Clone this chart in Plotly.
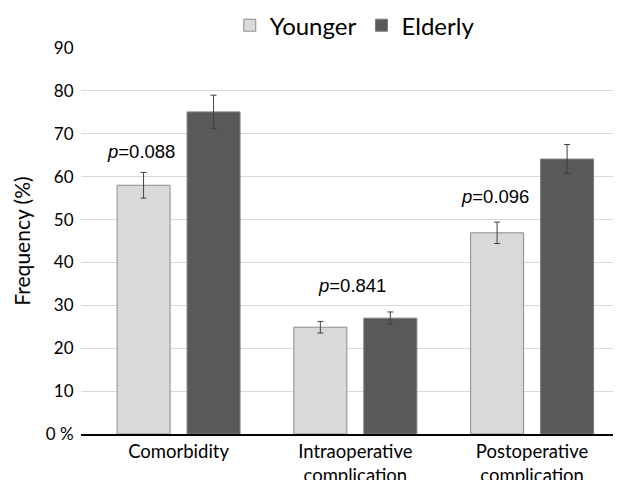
import plotly.graph_objects as go

categories = ["Comorbidity", "Intraoperative<br>complication", "Postoperative<br>complication"]
younger = [58, 24.9, 46.9]
younger_err = [3.0, 1.35, 2.5]
elderly = [75.1, 27, 64.1]
elderly_err = [3.9, 1.45, 3.4]
p_labels = ["0.088", "0.841", "0.096"]
p_y = [65.8, 34.6, 55.3]
p_offset = [-0.212, -0.02, -0.212]
y_ticks = [0, 10, 20, 30, 40, 50, 60, 70, 80, 90]
y_ticktext = ["0 %", "10", "20", "30", "40", "50", "60", "70", "80", "90"]

x_idx = list(range(len(categories)))

fig = go.Figure()
fig.add_trace(go.Bar(
    x=x_idx, y=younger, name="Younger",
    marker=dict(color="#d9d9d9", line=dict(color="#8c8c8c", width=1)),
    error_y=dict(type="data", array=younger_err, color="#404040", thickness=1, width=3),
))
fig.add_trace(go.Bar(
    x=x_idx, y=elderly, name="Elderly",
    marker=dict(color="#595959", line=dict(color="#7a7a7a", width=1)),
    error_y=dict(type="data", array=elderly_err, color="#404040", thickness=1, width=3),
))

for i, (lab, yy, off) in enumerate(zip(p_labels, p_y, p_offset)):
    fig.add_annotation(
        x=i + off, y=yy, xref="x", yref="y",
        text="<i>p</i>=" + lab, showarrow=False,
        font=dict(family="Liberation Sans, Arial", size=18.5, color="#000000"),
    )

fig.update_layout(
    width=613, height=472,
    margin=dict(l=73, r=0, t=39.5, b=45.5, autoexpand=False),
    paper_bgcolor="white", plot_bgcolor="white",
    barmode="group", bargap=0.208, bargroupgap=0.243,
    font=dict(family="Lato, Noto Sans, sans-serif", color="#000000"),
    legend=dict(
        orientation="h", x=0.507, xanchor="center", y=1.058, yanchor="middle",
        font=dict(size=24), itemwidth=30, traceorder="normal",
    ),
    xaxis=dict(
        tickmode="array", tickvals=x_idx, ticktext=categories,
        range=[-0.552, 2.503], showgrid=False, automargin=False,
        showline=True, linecolor="#000000", linewidth=2,
        tickfont=dict(size=18.5), ticks="", fixedrange=True,
    ),
    yaxis=dict(
        range=[0, 90], tickvals=y_ticks, ticktext=y_ticktext,
        showgrid=True, gridcolor="#d9d9d9", gridwidth=1, automargin=False,
        zeroline=False, tickfont=dict(size=17),
        ticks="outside", ticklen=3, tickcolor="rgba(0,0,0,0)",
        title=dict(text="Frequency (%)", font=dict(size=21), standoff=9),
    ),
)

fig.write_html("out.html")
